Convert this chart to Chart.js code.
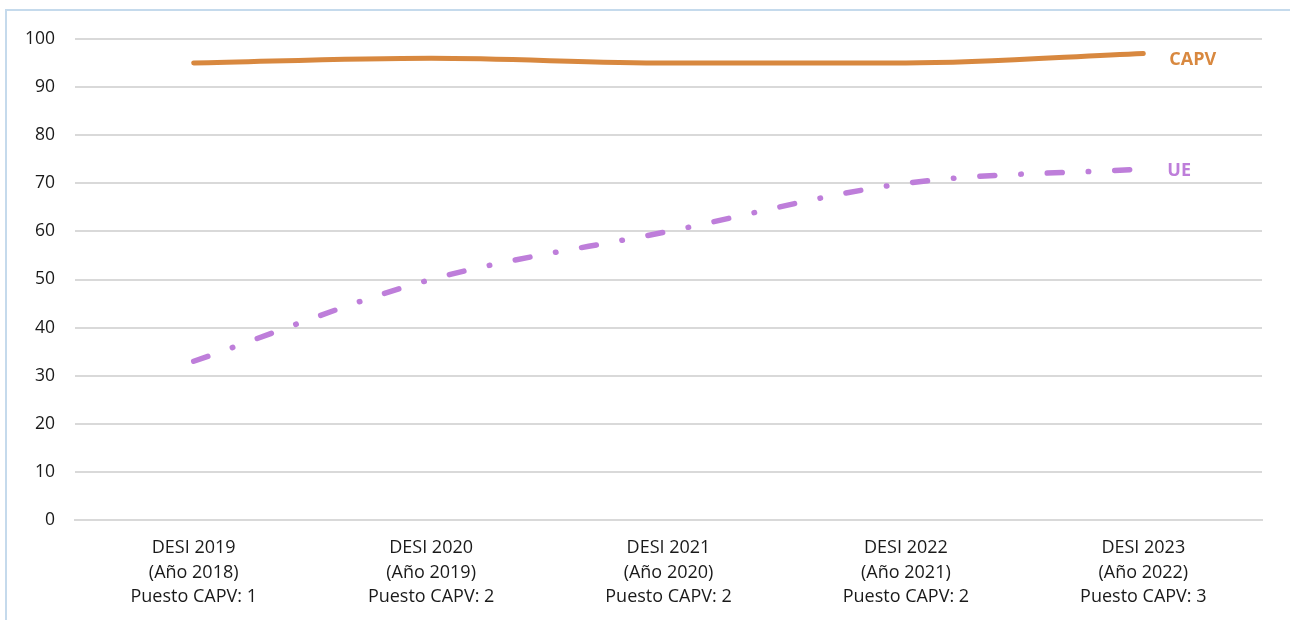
<!DOCTYPE html>
<html>
<head>
<meta charset="utf-8">
<script src="https://cdn.jsdelivr.net/npm/chart.js@4"></script>
<style>
  html, body { margin: 0; padding: 0; background: #fff; overflow: hidden; }
  #frame {
    position: absolute; left: 5px; top: 9px; width: 1310px; height: 640px;
    border: 2px solid #C5DAEC; box-sizing: border-box;
  }
  #wrap { position: absolute; left: 0; top: 0; width: 1290px; height: 620px; }
</style>
</head>
<body>
<div id="frame"></div>
<div id="wrap"><canvas id="grafico"></canvas></div>
<script>
const etiquetas = [
    ['DESI 2019', '(Año 2018)', 'Puesto CAPV: 1'],
    ['DESI 2020', '(Año 2019)', 'Puesto CAPV: 2'],
    ['DESI 2021', '(Año 2020)', 'Puesto CAPV: 2'],
    ['DESI 2022', '(Año 2021)', 'Puesto CAPV: 2'],
    ['DESI 2023', '(Año 2022)', 'Puesto CAPV: 3']
];
const valoresCAPV = [95, 96, 95, 95, 97];
const valoresUE = [33, 50, 60, 70, 73];

const naranja = '#D8883F';
const morado = '#BE7EDA';
const fuente = '"Open Sans"';

// nombre de la serie al final de cada línea
const nombresSeries = {
    id: 'nombresSeries',
    afterDatasetsDraw(chart) {
        const ctx = chart.ctx;
        ctx.save();
        ctx.font = 'bold 18px ' + fuente;
        ctx.textAlign = 'left';
        ctx.textBaseline = 'middle';
        chart.data.datasets.forEach((ds, i) => {
            const meta = chart.getDatasetMeta(i);
            const ultimo = meta.data[meta.data.length - 1];
            ctx.fillStyle = ds.borderColor;
            ctx.fillText(ds.label, ultimo.x + ds.desplX, ultimo.y + ds.desplY);
        });
        ctx.restore();
    }
};

new Chart(document.getElementById('grafico'), {
    type: 'line',
    data: {
        labels: etiquetas,
        datasets: [{
            label: 'CAPV',
            data: valoresCAPV,
            borderColor: naranja,
            borderWidth: 5,
            borderCapStyle: 'round',
            pointRadius: 0,
            cubicInterpolationMode: 'monotone',
            desplX: 26,
            desplY: 6
        }, {
            label: 'UE',
            data: valoresUE,
            borderColor: morado,
            borderWidth: 5.5,
            borderCapStyle: 'round',
            borderDash: [15, 26, 0.5, 26],
            pointRadius: 0,
            cubicInterpolationMode: 'monotone',
            desplX: 24,
            desplY: 2
        }]
    },
    options: {
        responsive: true,
        maintainAspectRatio: false,
        animation: false,
        layout: { padding: { top: 39, right: 28, left: 0, bottom: 0 } },
        plugins: {
            legend: { display: false },
            tooltip: { enabled: false }
        },
        scales: {
            x: {
                offset: true,
                grid: { display: false, drawTicks: false },
                border: { display: true, color: '#D9D9D9', width: 2 },
                ticks: {
                    padding: 16,
                    maxRotation: 0,
                    color: '#1a1a1a',
                    font: { family: fuente, size: 18, lineHeight: 1.36 }
                },
                afterFit(scale) { scale.height = 100; }
            },
            y: {
                min: 0,
                max: 100,
                ticks: {
                    stepSize: 10,
                    padding: 20,
                    color: '#1a1a1a',
                    font: { family: fuente, size: 17.5 }
                },
                grid: { color: '#D9D9D9', lineWidth: 2, drawTicks: false },
                border: { display: false },
                afterFit(scale) { scale.width = 75; }
            }
        }
    },
    plugins: [nombresSeries]
});
</script>
</body>
</html>
